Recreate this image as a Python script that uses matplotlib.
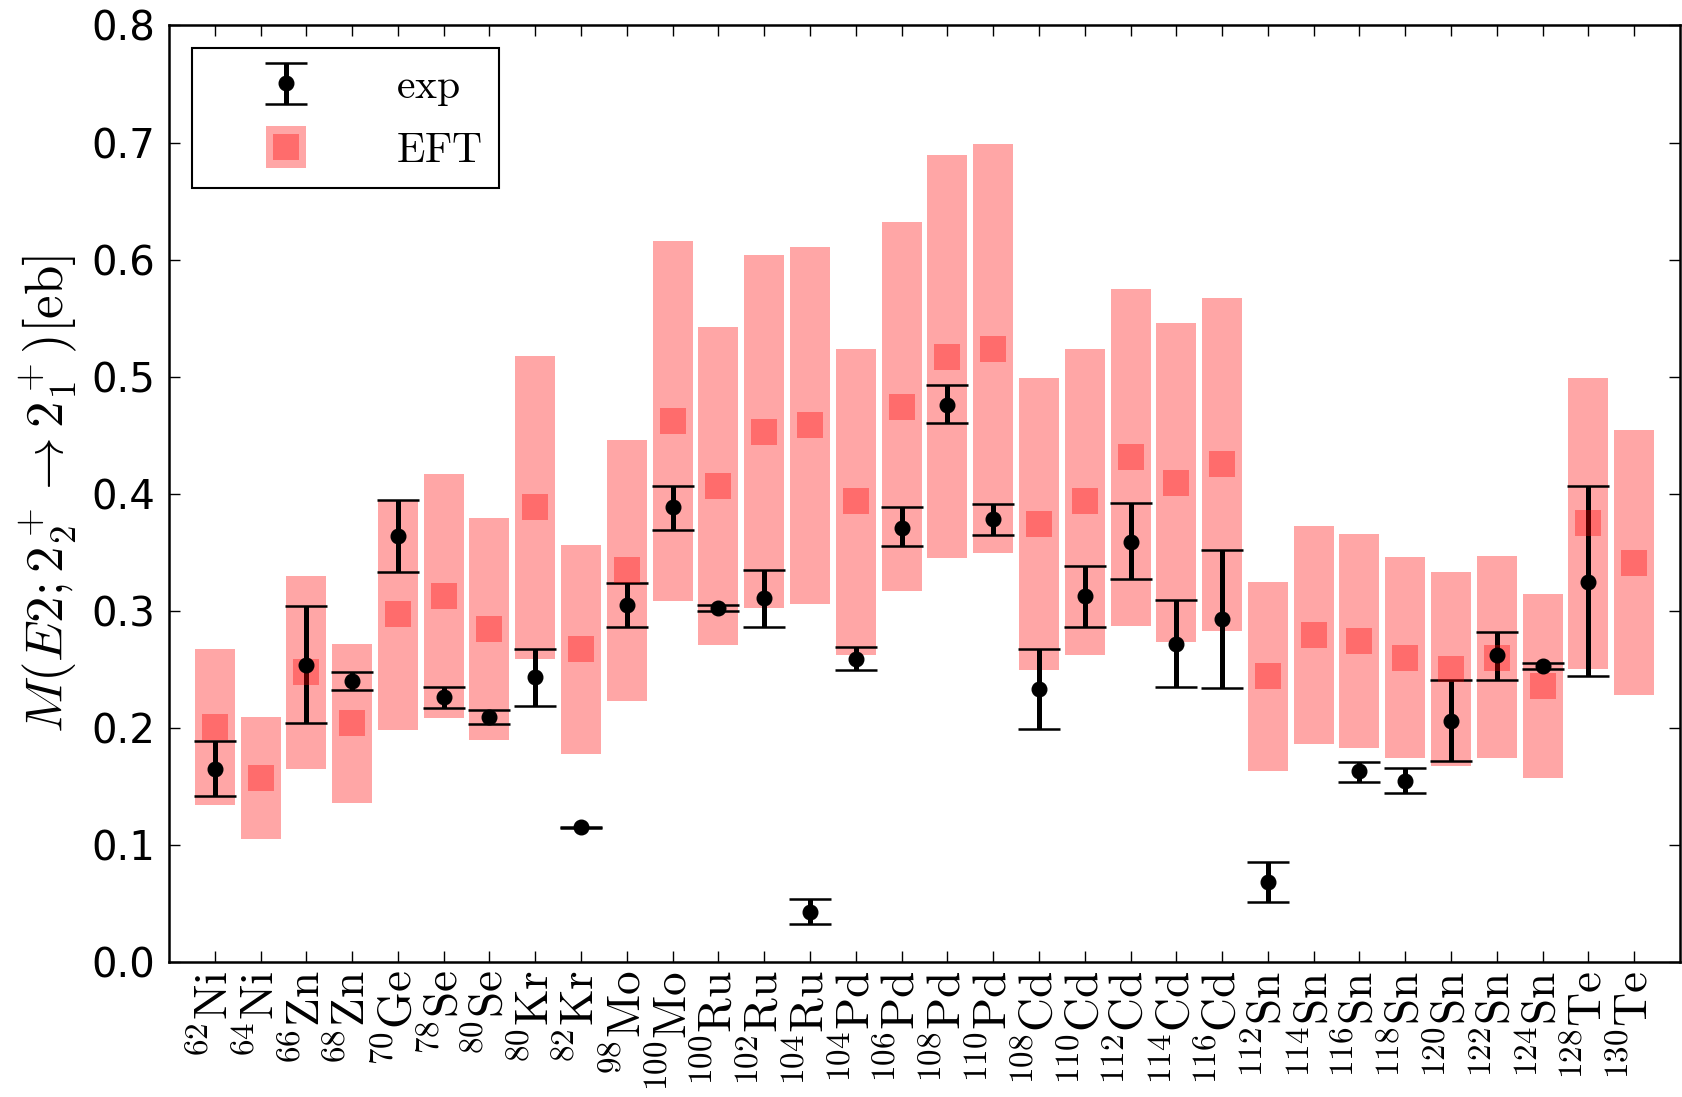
import numpy as np
import matplotlib
matplotlib.use('Agg')
import matplotlib.pyplot as plt

plt.rcParams['mathtext.fontset'] = 'cm'
plt.rcParams['axes.linewidth'] = 1.8

# Núcleos (número másico y elemento)
masses = [62, 64, 66, 68, 70, 78, 80, 80, 82, 98, 100, 100, 102, 104, 104, 106,
          108, 110, 108, 110, 112, 114, 116, 112, 114, 116, 118, 120, 122, 124,
          128, 130]
elements = ['Ni', 'Ni', 'Zn', 'Zn', 'Ge', 'Se', 'Se', 'Kr', 'Kr', 'Mo', 'Mo',
            'Ru', 'Ru', 'Ru', 'Pd', 'Pd', 'Pd', 'Pd', 'Cd', 'Cd', 'Cd', 'Cd',
            'Cd', 'Sn', 'Sn', 'Sn', 'Sn', 'Sn', 'Sn', 'Sn', 'Te', 'Te']

# EFT: valor central y banda de incertidumbre [eb]
eft_central = [0.201, 0.157, 0.248, 0.204, 0.297, 0.313, 0.284, 0.389, 0.267,
               0.335, 0.462, 0.407, 0.453, 0.459, 0.394, 0.474, 0.517, 0.524,
               0.374, 0.394, 0.431, 0.409, 0.425, 0.244, 0.279, 0.274, 0.260,
               0.250, 0.260, 0.236, 0.375, 0.341]
eft_upper = [0.267, 0.209, 0.330, 0.272, 0.395, 0.417, 0.379, 0.518, 0.356,
             0.446, 0.616, 0.542, 0.604, 0.611, 0.524, 0.632, 0.689, 0.699,
             0.499, 0.524, 0.575, 0.546, 0.567, 0.325, 0.372, 0.366, 0.346,
             0.333, 0.347, 0.314, 0.499, 0.454]
eft_lower = [0.134, 0.105, 0.165, 0.136, 0.198, 0.208, 0.190, 0.259, 0.178,
             0.223, 0.308, 0.271, 0.302, 0.306, 0.262, 0.317, 0.345, 0.349,
             0.249, 0.262, 0.287, 0.273, 0.283, 0.163, 0.186, 0.183, 0.174,
             0.167, 0.174, 0.157, 0.250, 0.228]

# Experimental (nan = sin dato)
nan = np.nan
exp_val = [0.165, nan, 0.254, 0.240, 0.364, 0.226, 0.209, 0.243, 0.115, 0.305,
           0.389, 0.302, 0.311, 0.043, 0.259, 0.371, 0.476, 0.378, 0.233, 0.313,
           0.359, 0.272, 0.293, 0.068, nan, 0.163, 0.155, 0.206, 0.262, 0.253,
           0.325, nan]
exp_upper = [0.189, nan, 0.304, 0.248, 0.395, 0.235, 0.215, 0.267, 0.1152, 0.324,
             0.407, 0.305, 0.335, 0.054, 0.269, 0.389, 0.493, 0.391, 0.267, 0.338,
             0.392, 0.309, 0.352, 0.085, nan, 0.171, 0.166, 0.241, 0.282, 0.255,
             0.407, nan]
exp_lower = [0.142, nan, 0.204, 0.232, 0.333, 0.217, 0.203, 0.219, 0.1148, 0.286,
             0.369, 0.300, 0.286, 0.032, 0.249, 0.355, 0.460, 0.365, 0.199, 0.286,
             0.327, 0.235, 0.234, 0.051, nan, 0.154, 0.144, 0.172, 0.241, 0.250,
             0.244, nan]

x = np.arange(len(masses))
eft_c = np.array(eft_central)
eft_err = [eft_c - np.array(eft_lower), np.array(eft_upper) - eft_c]
ex = np.array(exp_val)
ex_err = [ex - np.array(exp_lower), np.array(exp_upper) - ex]

fig = plt.figure(figsize=(16.83, 10.97), dpi=100)
ax = fig.add_axes([0.1004, 0.1231, 0.8978, 0.8537])

# Banda EFT como barra de error gruesa + cuadrado central
h_eft = ax.errorbar(x, eft_c, yerr=eft_err, fmt='s', color='red', alpha=0.35,
                    ecolor='red', elinewidth=28.8, capsize=0,
                    markersize=19.4, markeredgewidth=0)
h_exp = ax.errorbar(x, ex, yerr=ex_err, fmt='o', color='k', markersize=10.5,
                    elinewidth=3.6, capsize=15, capthick=1.8)

ax.set_xlim(-1, 32)
ax.set_ylim(0, 0.8)
ax.set_yticks(np.arange(0, 0.81, 0.1))
ax.set_xticks(x)
ax.set_xticklabels([r'$^{%d}\mathrm{%s}$' % (m, e) for m, e in zip(masses, elements)],
                   rotation=90, fontsize=34)
ax.tick_params(direction='in', top=True, right=True, length=8, width=1)
ax.tick_params(axis='y', labelsize=29, pad=10)
ax.tick_params(axis='x', pad=6)
ax.set_ylabel(r'$M(E2;2_2^+\rightarrow 2_1^+)[\mathrm{eb}]$', fontsize=38,
              labelpad=9)

leg = ax.legend([h_exp, h_eft], [r'$\mathrm{exp}$', r'$\mathrm{EFT}$'],
                loc='upper left', fontsize=30, fancybox=False, framealpha=1,
                edgecolor='k', handlelength=3.7, handletextpad=0.8,
                borderpad=0.4, labelspacing=0.5, borderaxespad=0.55)
leg.get_frame().set_linewidth(1.5)

fig.savefig('out.png', dpi=100)
